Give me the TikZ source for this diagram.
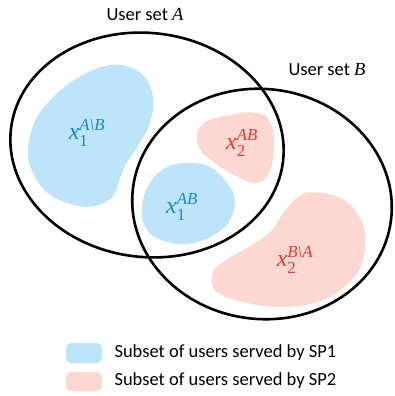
\documentclass[tikz,border=0pt]{standalone}
\usepackage{fontspec}
\usepackage{amsmath}
\setmainfont{Carlito}
\newfontfamily\mfont{Liberation Serif}
\newcommand{\mv}[1]{\text{\mfont\itshape #1}}
\newcommand{\mn}[1]{\text{\mfont #1}}
\definecolor{sponefill}{HTML}{BEE4FA}
\definecolor{sptwofill}{HTML}{FDD7D2}
\definecolor{sponetext}{HTML}{1C86CC}
\definecolor{sptwotext}{HTML}{F0352B}
\begin{document}
\begin{tikzpicture}[x=1pt,y=-1pt,
  setline/.style={line width=2.6pt,black},
  blobone/.style={fill=sponefill},
  blobtwo/.style={fill=sptwofill},
  lblone/.style={text=sponetext,font=\fontsize{24}{26}\selectfont,inner sep=0pt},
  lbltwo/.style={text=sptwotext,font=\fontsize{24}{26}\selectfont,inner sep=0pt},
  settitle/.style={font=\fontsize{18.5}{20}\selectfont},
  legtext/.style={font=\fontsize{18.5}{20}\selectfont,anchor=west},
  legbox/.style={rounded corners=5pt}]
\useasboundingbox (0,0) rectangle (394,396);
% blobs
\fill[blobone] plot[smooth cycle,tension=0.6] coordinates {(120,65) (143,75) (153,97) (150,123) (138,146) (126,164) (119,181) (113,196) (99,205) (78,206) (50,195) (33,173) (28,150) (37,117) (63,88) (93,70)};
\fill[blobtwo] plot[smooth cycle,tension=0.7] coordinates {(230,115) (257,113) (270,122) (274,145) (270,170) (258,183) (240,178) (215,163) (198,145) (203,124)};
\fill[blobone] plot[smooth cycle,tension=0.7] coordinates {(190,163) (210,167) (227,183) (235,200) (230,220) (217,233) (193,243) (167,242) (147,230) (142,207) (150,183) (167,167)};
\fill[blobtwo] plot[smooth cycle,tension=0.7] coordinates {(307,193) (340,198) (360,218) (365,242) (360,268) (343,288) (317,302) (283,307) (247,303) (217,292) (212,275) (223,262) (247,248) (270,232) (287,208)};
% sets
\draw[setline,rotate around={-7:(147,145)}] (147,145) ellipse [x radius=137, y radius=112];
\draw[setline,rotate around={-7:(262,204)}] (262,204) ellipse [x radius=130, y radius=115];
% labels
\node[settitle] (ta) at (145,14) {User set {\mfont\itshape A}};
\node[settitle] (tb) at (327,70) {User set {\mfont\itshape B}};
\node[lblone] (l1) at (87,133) {$\mv{x}_{\mn{1}}^{\mv{A\textbackslash B}}$};
\node[lbltwo] (l2) at (242,143) {$\mv{x}_{\mn{2}}^{\mv{AB}}$};
\node[lblone] (l3) at (182,207) {$\mv{x}_{\mn{1}}^{\mv{AB}}$};
\node[lbltwo] (l4) at (295,260) {$\mv{x}_{\mn{2}}^{\mv{B\textbackslash A}}$};
% legend
\fill[blobone,legbox] (66,343) rectangle (102,363);
\fill[blobtwo,legbox] (66,372) rectangle (102,391);
\node[legtext] (g1) at (111,353) {Subset of users served by SP1};
\node[legtext] (g2) at (111,381) {Subset of users served by SP2};
\end{tikzpicture}
\end{document}
